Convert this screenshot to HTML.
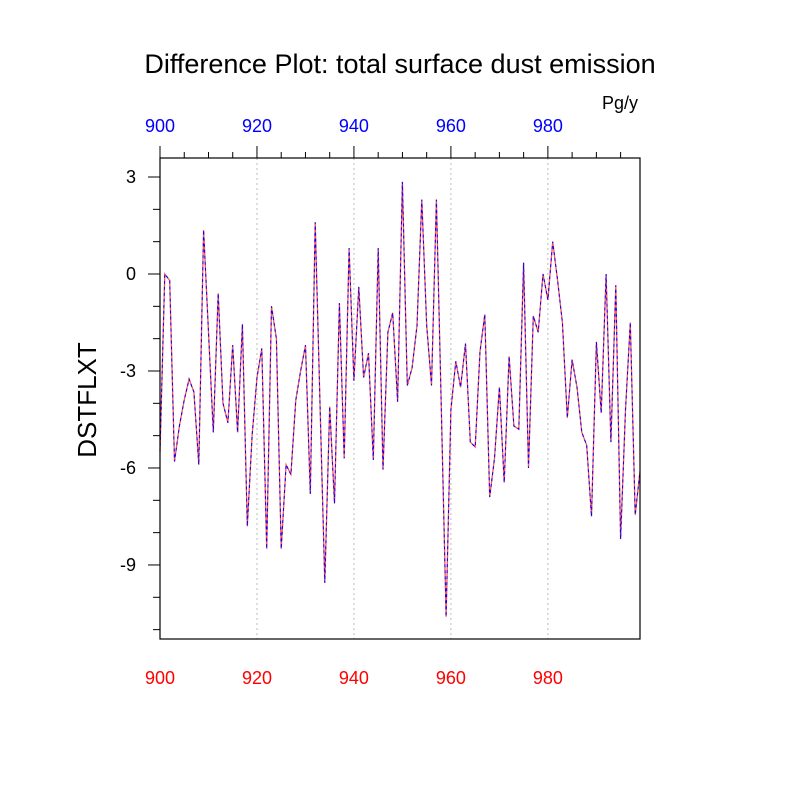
<!DOCTYPE html>
<html><head><meta charset="utf-8"><style>body{margin:0;background:#fff}svg{display:block}text{font-family:"Liberation Sans",sans-serif}</style></head>
<body>
<svg id="chart" width="800" height="800">
<text x="400" y="73" font-size="27" text-anchor="middle">Difference Plot: total surface dust emission</text>
<text x="620" y="109" font-size="18" text-anchor="middle">Pg/y</text>
<text transform="translate(96,400) rotate(-90)" font-size="26" text-anchor="middle">DSTFLXT</text>
<g id="grid"></g><g id="axes"></g><g id="series"></g>
<rect x="160" y="158" width="480" height="481" fill="none" stroke="#000" stroke-width="1.2"/>
</svg>
<script>
const years=[];for(let i=900;i<=999;i++)years.push(i);
const values=[-5.5,0.0,-0.2,-5.8,-4.7,-3.9,-3.25,-3.65,-5.9,1.36,-1.8,-4.9,-0.6,-4.0,-4.6,-2.2,-4.9,-1.55,-7.8,-5.0,
-3.2,-2.3,-8.5,-1.0,-2.0,-8.5,-5.9,-6.2,-3.9,-3.0,-2.2,-6.8,1.6,-4.0,-9.55,-4.1,-7.1,-0.9,-5.7,0.8,
-3.3,-0.4,-3.2,-2.45,-5.75,0.8,-6.05,-1.8,-1.2,-3.95,2.85,-3.45,-2.9,-1.6,2.3,-1.6,-3.45,2.3,-4.0,-10.6,
-4.2,-2.7,-3.5,-2.15,-5.2,-5.35,-2.4,-1.25,-6.9,-5.7,-3.5,-6.45,-2.55,-4.7,-4.8,0.35,-6.0,-1.3,-1.8,0.0,
-0.8,1.0,-0.2,-1.5,-4.45,-2.65,-3.5,-4.9,-5.3,-7.5,-2.1,-4.3,0.0,-5.2,-0.35,-8.2,-4.2,-1.5,-7.45,-6.1];
const xTicks=[900,920,940,960,980];
const yTicks=[3,0,-3,-6,-9];
const NS='http://www.w3.org/2000/svg';
const X=v=>160+(v-900)*480/99;
const Y=v=>274-v*32.33;
function mk(t,a,p){const e=document.createElementNS(NS,t);for(const k in a)e.setAttribute(k,a[k]);p.appendChild(e);return e;}
const grid=document.getElementById('grid'),axes=document.getElementById('axes'),series=document.getElementById('series');
xTicks.forEach(t=>{
  if(t>900){const g=mk('line',{x1:X(t),x2:X(t),y1:158,y2:639,stroke:'#bbb','stroke-dasharray':'2,3'},grid);
  
  }
  const tk=mk('line',{x1:X(t),x2:X(t),y1:158,y2:146,stroke:'#000'},axes);
  
  
  const a=mk('text',{x:X(t),y:132,'font-size':18,fill:'#00f','text-anchor':'middle'},axes);a.textContent=t;
  
  
  const b=mk('text',{x:X(t),y:684,'font-size':18,fill:'#f00','text-anchor':'middle'},axes);b.textContent=t;
  
  
});
for(let m=905;m<1000;m+=5){if(m%20===0)continue;
  const tk=mk('line',{x1:X(m),x2:X(m),y1:158,y2:152,stroke:'#000'},axes);
  
  }
for(let v=3;v>=-11;v--){const major=yTicks.includes(v);
  const tk=mk('line',{x1:major?148:153,x2:160,y1:Y(v),y2:Y(v),stroke:'#000'},axes);
  
  }
yTicks.forEach(t=>{const l=mk('text',{x:136,y:Y(t)+6,'font-size':18,'text-anchor':'end'},axes);l.textContent=t;
  
  });
const pts=years.map((y,i)=>X(y).toFixed(1)+','+Y(values[i]).toFixed(1)).join(' ');
const r=mk('polyline',{points:pts,fill:'none',stroke:'#f55','stroke-width':1.3},series);


const bl=mk('polyline',{points:pts,fill:'none',stroke:'#00f','stroke-width':1,'stroke-dasharray':'3,3'},series);


</script>
</body></html>
